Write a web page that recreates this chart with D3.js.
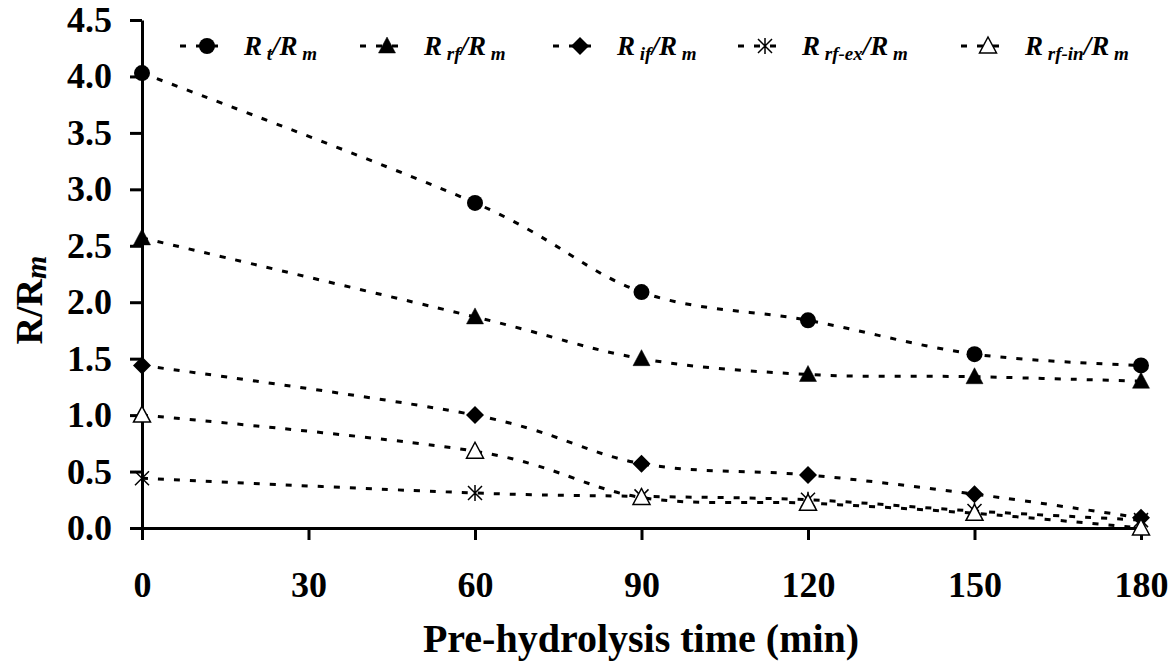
<!DOCTYPE html>
<html>
<head>
<meta charset="utf-8">
<script src="https://cdn.jsdelivr.net/npm/d3@7"></script>
<style>
  body { margin: 0; background: #fff; }
  text { font-family: "Liberation Serif", "Times New Roman", serif; font-weight: bold; }
</style>
</head>
<body>
<div id="chart"></div>
<script>
// data
var times = [0, 60, 90, 120, 150, 180];
var rt = [4.03, 2.88, 2.09, 1.84, 1.54, 1.44];
var rrf = [2.57, 1.87, 1.50, 1.36, 1.34, 1.30];
var rif = [1.44, 1.00, 0.57, 0.47, 0.30, 0.09];
var rrfEx = [0.44, 0.31, 0.28, 0.25, 0.15, 0.07];
var rrfIn = [1.00, 0.68, 0.27, 0.22, 0.13, 0.00];
var xTicks = [0, 30, 60, 90, 120, 150, 180];
var yTicks = [0, 0.5, 1, 1.5, 2, 2.5, 3, 3.5, 4, 4.5];

var series = [
  { sub: "t", values: rt, marker: "circle" },
  { sub: "rf", values: rrf, marker: "triangle" },
  { sub: "if", values: rif, marker: "diamond" },
  { sub: "rf-ex", values: rrfEx, marker: "star" },
  { sub: "rf-in", values: rrfIn, marker: "opentriangle" }
];

var svgWidth = 1175;
var svgHeight = 662;

var svg = d3.select("#chart")
  .append("svg")
  .attr("width", svgWidth)
  .attr("height", svgHeight);

var x = d3.scaleLinear().domain([0, 180]).range([142, 1141]);
var y = d3.scaleLinear().domain([0, 4.5]).range([528, 20]);

// axes
var xAxis = svg.append("g")
  .attr("transform", "translate(0," + y(0) + ")")
  .call(d3.axisBottom(x).tickValues(xTicks).tickSize(12).tickSizeOuter(0).tickPadding(31));
var yAxis = svg.append("g")
  .attr("transform", "translate(" + x(0) + ",0)")
  .call(d3.axisLeft(y).tickValues(yTicks).tickSize(12).tickSizeOuter(0).tickPadding(18)
    .tickFormat(d3.format(".1f")));

[xAxis, yAxis].forEach(function(g) {
  g.select(".domain").attr("stroke", "#000").attr("stroke-width", 3);
  g.selectAll(".tick line").attr("stroke", "#000").attr("stroke-width", 3);
  g.selectAll(".tick text")
    .attr("fill", "#000")
    .style("font-size", "36px")
    .style("font-family", "Liberation Serif, serif")
    .style("font-weight", "bold");
});

// lines
var line = d3.line()
  .x(function(d, i) { return x(times[i]); })
  .y(function(d) { return y(d); })
  .curve(d3.curveCardinal.tension(0));

function dashed(sel) {
  return sel.attr("fill", "none")
    .attr("stroke", "#000")
    .attr("stroke-width", 3)
    .attr("stroke-dasharray", "6,10");
}

series.forEach(function(s) {
  dashed(svg.append("path").datum(s.values).attr("d", line));
});

// markers
function drawMarker(g, type) {
  if (type === "circle") {
    g.append("circle").attr("r", 8).attr("fill", "#000");
  } else if (type === "triangle" || type === "opentriangle") {
    g.append("path")
      .attr("d", "M0,-9L8.5,7L-8.5,7Z")
      .attr("fill", type === "triangle" ? "#000" : "#fff")
      .attr("stroke", "#000")
      .attr("stroke-width", type === "triangle" ? 0.5 : 1.5);
  } else if (type === "diamond") {
    g.append("path").attr("d", "M0,-9L9,0L0,9L-9,0Z").attr("fill", "#000");
  } else if (type === "star") {
    g.append("path")
      .attr("d", "M-7,-7L7,7M-7,7L7,-7M0,-8L0,8")
      .attr("stroke", "#000")
      .attr("stroke-width", 1.5)
      .attr("fill", "none");
  }
}

series.forEach(function(s) {
  svg.append("g").selectAll("g")
    .data(s.values)
    .enter()
    .append("g")
    .attr("transform", function(d, i) { return "translate(" + x(times[i]) + "," + y(d) + ")"; })
    .each(function() { drawMarker(d3.select(this), s.marker); });
});

// legend
var legendX = [180, 360, 553, 738, 961];
var legendY = 46;
series.forEach(function(s, i) {
  var lg = svg.append("g").attr("transform", "translate(" + legendX[i] + "," + legendY + ")");
  dashed(lg.append("line").attr("x1", 0).attr("x2", 46).attr("y1", 0).attr("y2", 0));
  drawMarker(lg.append("g").attr("transform", "translate(27,0)"), s.marker);
  var t = lg.append("text")
    .attr("x", 64)
    .attr("y", 9)
    .style("font-size", "27px")
    .style("font-style", "italic");
  t.append("tspan").text("R");
  t.append("tspan").attr("dy", 5).style("font-size", "19px").text(" " + s.sub);
  t.append("tspan").attr("dy", -5).text("/R");
  t.append("tspan").attr("dy", 5).style("font-size", "19px").text(" m");
});

// axis titles
svg.append("text")
  .attr("x", 641)
  .attr("y", 652)
  .attr("text-anchor", "middle")
  .style("font-size", "40px")
  .text("Pre-hydrolysis time (min)");

var yt = svg.append("text")
  .attr("transform", "translate(42,300) rotate(-90)")
  .attr("text-anchor", "middle")
  .style("font-size", "38px");
yt.append("tspan").text("R/R");
yt.append("tspan").attr("dy", 4).style("font-size", "30px").style("font-style", "italic").text("m");
</script>
</body>
</html>
